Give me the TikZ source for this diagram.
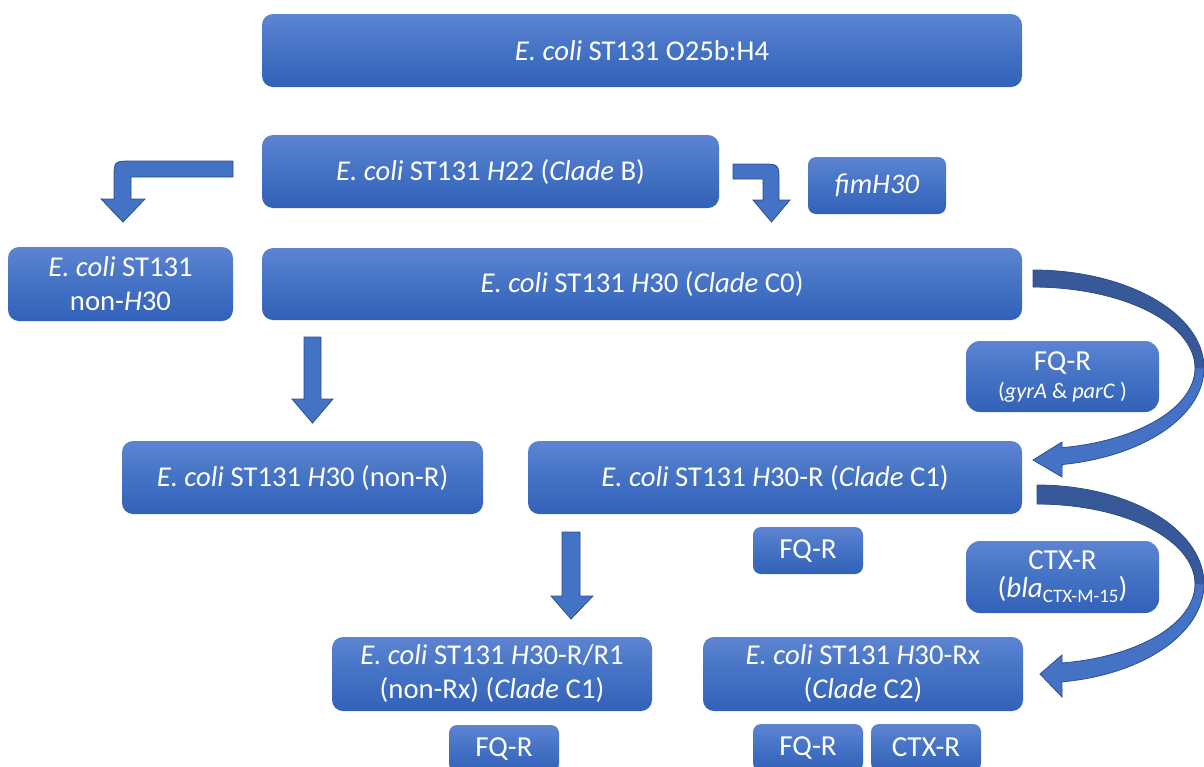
\documentclass[tikz,border=0pt]{standalone}
\usepackage{fontspec}
\setmainfont{Carlito}
\definecolor{boxtop}{HTML}{5D84D2}
\definecolor{boxmid}{HTML}{4472C4}
\definecolor{boxbot}{HTML}{3261B9}
\definecolor{arrfill}{HTML}{4472C4}
\definecolor{arrline}{HTML}{2F4F8A}
\definecolor{arrdark}{HTML}{37599A}
\tikzset{
  box/.style={rounded corners=11pt, top color=boxtop, bottom color=boxbot, middle color=boxmid,
    text=white, align=center, inner sep=0pt, font=\fontsize{28.7}{34}\selectfont},
  smallbox/.style={box, rounded corners=8pt, font=\fontsize{29}{32}\selectfont},
  genebox/.style={box, rounded corners=14pt, font=\fontsize{29}{30}\selectfont},
  blockarrow/.style={fill=arrfill, draw=arrline, line width=0.8pt, line join=miter},
}
\begin{document}
\begin{tikzpicture}[x=1pt,y=-1pt]
\useasboundingbox (0,0) rectangle (1204,766);
% boxes
\node[box, minimum width=760pt, minimum height=73pt] (top) at (642,50.5) {\textit{E. coli} ST131 O25b:H4};
\node[box, minimum width=457pt, minimum height=73pt] (h22) at (490.5,171.5) {\textit{E. coli} ST131 \textit{H}22 (\textit{Clade} B)};
\node[smallbox, minimum width=138pt, minimum height=57pt, font=\fontsize{28.4}{32}\selectfont] (fim) at (877,185.5) {\textit{fimH30}};
\node[box, minimum width=225pt, minimum height=74pt] (nonh) at (120.5,284) {\textit{E. coli} ST131\\non-\textit{H}30};
\node[box, minimum width=760pt, minimum height=72pt] (c0) at (642,284) {\textit{E. coli} ST131 \textit{H}30 (\textit{Clade} C0)};
\node[genebox, minimum width=193pt, minimum height=71pt] (fqg) at (1062.5,376.5) {FQ-R\\[-2pt]{\fontsize{22.3}{24}\selectfont (\textit{gyrA} \& \textit{parC} )}};
\node[box, minimum width=361pt, minimum height=73pt] (nonr) at (302.5,477.5) {\textit{E. coli} ST131 \textit{H}30 (non-R)};
\node[box, minimum width=494pt, minimum height=73pt] (c1) at (775,477.5) {\textit{E. coli} ST131 \textit{H}30-R (\textit{Clade} C1)};
\node[smallbox, minimum width=110pt, minimum height=47pt] (fqa) at (808,550.5) {FQ-R};
\node[genebox, minimum width=193pt, minimum height=72pt] (ctx) at (1062.5,577) {CTX-R\\[-2pt](\textit{bla}\raisebox{-5pt}{\fontsize{19}{20}\selectfont CTX-M-15})};
\node[box, minimum width=320pt, minimum height=74pt] (r1) at (492,674) {\textit{E. coli} ST131 \textit{H}30-R/R1\\(non-Rx) (\textit{Clade} C1)};
\node[box, minimum width=320pt, minimum height=74pt] (rx) at (863,674) {\textit{E. coli} ST131 \textit{H}30-Rx\\(\textit{Clade} C2)};
\node[smallbox, minimum width=110pt, minimum height=47pt] (fqb) at (504,748.5) {FQ-R};
\node[smallbox, minimum width=110pt, minimum height=47pt] (fqc) at (808,747.5) {FQ-R};
\node[smallbox, minimum width=110pt, minimum height=47pt] (ctxb) at (926,747.5) {CTX-R};
% bent arrows
\draw[blockarrow] (233,161) -- (132,161) .. controls (114,161) .. (114,179) -- (114,199) -- (101,199) -- (123,222) -- (145,199) -- (131,199) -- (131,177) -- (233,177) -- cycle;
\draw[blockarrow] (733,164) -- (761,164) .. controls (779,164) .. (779,182) -- (779,200) -- (790,200) -- (771.5,222) -- (753,200) -- (763,200) -- (763,179) -- (733,179) -- cycle;
% straight down arrows
\draw[blockarrow] (304,337) -- (321,337) -- (321,399) -- (333,399) -- (312.5,423) -- (292,399) -- (304,399) -- cycle;
\draw[blockarrow] (562,532) -- (580,532) -- (580,596) -- (593,596) -- (571,619) -- (551,596) -- (562,596) -- cycle;
% curved arrow 1 (C0 -> C1)
\fill[arrfill] plot[domain=-90:80.2, samples=60] ({1033+171*cos(\x)},{368+98*sin(\x)}) -- (1062,477) -- (1033,460) -- (1062,442) -- plot[domain=79.7:-90, samples=60] ({1033+162*cos(\x)},{368+81*sin(\x)}) -- cycle;
\fill[arrdark] plot[domain=-90:0, samples=40] ({1033+171*cos(\x)},{368+98*sin(\x)}) -- plot[domain=0:-90, samples=40] ({1033+162*cos(\x)},{368+81*sin(\x)}) -- cycle;
\draw[arrline, line width=0.8pt, line join=miter] plot[domain=-90:80.2, samples=60] ({1033+171*cos(\x)},{368+98*sin(\x)}) -- (1062,477) -- (1033,460) -- (1062,442) -- plot[domain=79.7:-90, samples=60] ({1033+162*cos(\x)},{368+81*sin(\x)}) -- cycle;
% curved arrow 2 (C1 -> C2)
\fill[arrfill] plot[domain=-90:81.4, samples=60] ({1037+167*cos(\x)},{584+99*sin(\x)}) -- (1062,697) -- (1040,674) -- (1062,655) -- plot[domain=80.9:-90, samples=60] ({1037+158*cos(\x)},{584+80*sin(\x)}) -- cycle;
\fill[arrdark] plot[domain=-90:0, samples=40] ({1037+167*cos(\x)},{584+99*sin(\x)}) -- plot[domain=0:-90, samples=40] ({1037+158*cos(\x)},{584+80*sin(\x)}) -- cycle;
\draw[arrline, line width=0.8pt, line join=miter] plot[domain=-90:81.4, samples=60] ({1037+167*cos(\x)},{584+99*sin(\x)}) -- (1062,697) -- (1040,674) -- (1062,655) -- plot[domain=80.9:-90, samples=60] ({1037+158*cos(\x)},{584+80*sin(\x)}) -- cycle;
\end{tikzpicture}
\end{document}
